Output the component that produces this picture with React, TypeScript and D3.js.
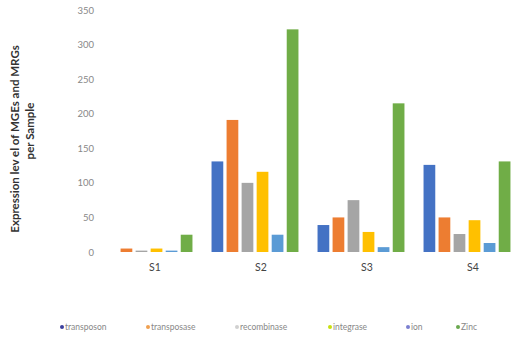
import React from "react";
import * as d3 from "d3";

const samples = ["S1", "S2", "S3", "S4"];
const series = ["transposon", "transposase", "recombinase", "integrase", "ion", "Zinc"];
const transposon = [0, 131, 39, 126];
const transposase = [5, 191, 50, 50];
const recombinase = [2, 100, 75, 26];
const integrase = [5, 116, 29, 46];
const ion = [2, 25, 7, 13];
const zinc = [25, 322, 215, 131];
const yTicks = [0, 50, 100, 150, 200, 250, 300, 350];

const barColors = ["#4472C4", "#ED7D31", "#A5A5A5", "#FFC000", "#5B9BD5", "#70AD47"];
const swatchColors = ["#3b3f9e", "#F0A050", "#d0d0d0", "#c8e010", "#7b7fd0", "#6aa84f"];
const legendX = [62, 148, 237, 330, 408, 458];

const values = [transposon, transposase, recombinase, integrase, ion, zinc];

export default function App() {
  const width = 514;
  const height = 346;
  const left = 96;
  const right = 520;
  const top = 10;
  const bottom = 252;

  const x0 = d3.scaleBand<string>().domain(samples).range([left, right]).paddingInner(0.18).paddingOuter(0.09);
  const x1 = d3.scaleBand<string>().domain(series).range([0, x0.bandwidth()]).paddingInner(0.22);
  const y = d3.scaleLinear().domain([0, 350]).range([bottom, top]);

  const font = "Lato, 'Open Sans', sans-serif";

  return (
    <svg width={width} height={height} style={{ position: "absolute", left: 0, top: 0, background: "#fff" }}>
      <rect width={width} height={height} fill="#fff" />
      {yTicks.map((t) => (
        <text key={t} x={94} y={y(t) + 3.5} textAnchor="end" fontSize={9.5} fill="#888" fontFamily={font}>
          {t}
        </text>
      ))}
      <text
        transform="rotate(-90)"
        fontSize={11.5}
        fontWeight="bold"
        fill="#333"
        fontFamily={font}
        textAnchor="middle"
      >
        <tspan x={-139} y={19}>Expression lev el of MGEs and MRGs</tspan>
        <tspan x={-131} y={34}>per Sample</tspan>
      </text>
      {samples.map((s, i) => (
        <g key={s}>
          {series.map((name, j) => {
            const v = values[j][i];
            const bx = (x0(s) ?? 0) + (x1(name) ?? 0);
            return (
              <rect
                key={name}
                x={bx}
                y={y(v)}
                width={x1.bandwidth()}
                height={bottom - y(v)}
                fill={barColors[j]}
              />
            );
          })}
          <text
            x={(x0(s) ?? 0) + x0.bandwidth() / 2 + 6}
            y={271}
            textAnchor="middle"
            fontSize={10.5}
            fill="#444"
            fontFamily={font}
          >
            {s}
          </text>
        </g>
      ))}
      {series.map((name, j) => (
        <g key={name}>
          <circle cx={legendX[j]} cy={327} r={2} fill={swatchColors[j]} />
          <text x={legendX[j] + 3} y={330} fontSize={8.5} fill="#888" fontFamily={font}>
            {name}
          </text>
        </g>
      ))}
    </svg>
  );
}
